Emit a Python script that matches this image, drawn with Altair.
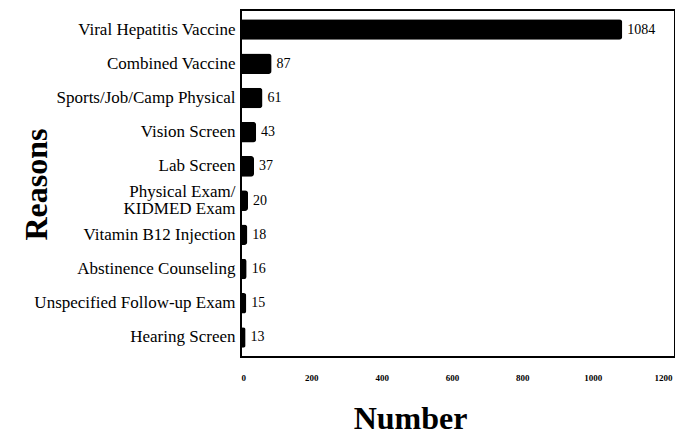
import altair as alt
import pandas as pd

reasons = [
    "Viral Hepatitis Vaccine",
    "Combined Vaccine",
    "Sports/Job/Camp Physical",
    "Vision Screen",
    "Lab Screen",
    "Physical Exam/|KIDMED Exam",
    "Vitamin B12 Injection",
    "Abstinence Counseling",
    "Unspecified Follow-up Exam",
    "Hearing Screen",
]
counts = [1084, 87, 61, 43, 37, 20, 18, 16, 15, 13]
x_ticks = [0, 200, 400, 600, 800, 1000, 1200]

df = pd.DataFrame({"reason": reasons, "count": counts})

SERIF = "Liberation Serif"

y_enc = alt.Y(
    "reason:N",
    sort=None,
    scale=alt.Scale(paddingInner=0.4, paddingOuter=0.27),
    axis=alt.Axis(
        title="Reasons",
        titleFont=SERIF,
        titleFontSize=32,
        titleFontWeight="bold",
        titleColor="black",
        titleAngle=-90,
        titleAlign="center",
        titleBaseline="middle",
        titleX=-205,
        titleY=174,
        labelFont=SERIF,
        labelFontSize=17,
        labelColor="black",
        labelLimit=300,
        labelPadding=6,
        labelLineHeight=17,
        labelExpr="split(datum.label, '|')",
        labelOffset={"condition": {"test": "indexof(datum.value, '|') >= 0", "value": -9}, "value": 0},
        ticks=False,
        domain=False,
    ),
)

x_enc = alt.X(
    "count:Q",
    scale=alt.Scale(domain=[0, 1234], nice=False),
    axis=alt.Axis(
        title="Number",
        values=x_ticks,
        format="d",
        titleFont=SERIF,
        titleFontSize=32,
        titleFontWeight="bold",
        titleColor="black",
        titleAlign="center",
        titleBaseline="alphabetic",
        titleX=169,
        titleY=71,
        labelFont=SERIF,
        labelFontSize=9,
        labelFontWeight="bold",
        labelColor="black",
        labelPadding=16,
        ticks=False,
        domain=False,
        grid=False,
    ),
)

bars = alt.Chart(df).mark_bar(color="black", cornerRadiusEnd=3).encode(x=x_enc, y=y_enc)

labels = alt.Chart(df).mark_text(
    align="left", baseline="middle", dx=5, font=SERIF, fontSize=14, color="black"
).encode(x="count:Q", y=alt.Y("reason:N", sort=None), text="count:Q")

chart = (
    alt.layer(bars, labels)
    .properties(
        width=434,
        height=347,
        background="white",
        autosize=alt.AutoSizeParams(type="none"),
        padding={"left": 233, "top": 2, "right": 0, "bottom": 79},
    )
    .configure_view(stroke="black", strokeWidth=2, strokeOpacity=1)
)

chart.save("out.html", embed_options={"renderer": "svg", "actions": False})
